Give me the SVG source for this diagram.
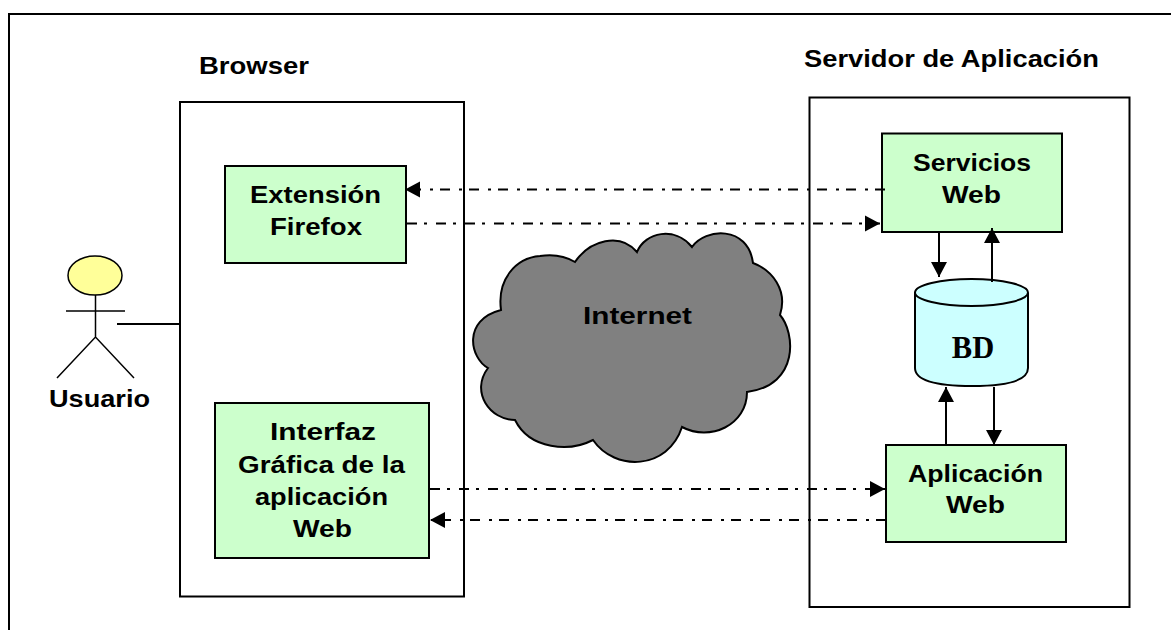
<svg xmlns="http://www.w3.org/2000/svg" width="1171" height="630" viewBox="0 0 1171 630">
<defs>
<marker id="arrow" markerUnits="userSpaceOnUse" markerWidth="16" markerHeight="17" refX="15" refY="8.500" orient="auto"><path d="M0,0.500 L15,8.500 L0,16.500Z" fill="#000"/></marker>
</defs>
<style>
.box{fill:#ccffcc;stroke:#000;stroke-width:2}
.plain{fill:#fff;stroke:#000;stroke-width:2}
.t{font-family:"Liberation Sans",Arial,sans-serif;font-weight:bold;font-size:24px;fill:#000;text-anchor:middle}
.dash{fill:none;stroke:#000;stroke-width:2;stroke-dasharray:10 7 3 9;marker-end:url(#arrow)}
.solid{fill:none;stroke:#000;stroke-width:2;marker-end:url(#arrow)}
.thin{fill:none;stroke:#000;stroke-width:1.500}
</style>
<rect id="frame" x="9" y="14" width="1170" height="625" fill="#fff" stroke="#000" stroke-width="2"/>
<g id="browser"><rect class="plain" x="180" y="102" width="284" height="494.500"/><text class="t" x="254" y="74" textLength="110" lengthAdjust="spacingAndGlyphs">Browser</text></g>
<g id="servidor"><rect class="plain" x="809.500" y="97.500" width="320" height="509.500"/><text class="t" x="951.500" y="67" textLength="295" lengthAdjust="spacingAndGlyphs">Servidor de Aplicación</text></g>
<g id="internet">
<path d="M575,262 C590,240 620,232 637,252 C645,232 675,226 692,247 C705,228 748,225 753,263 C772,270 788,290 780,315 C795,332 800,385 747,392 C747,425 710,442 682,427 C668,470 615,472 593,440 C570,452 530,450 515,420 C490,420 470,392 488,368 C470,358 462,320 501,310 C497,280 515,258 540,256 C553,254 565,256 575,262Z" fill="#808080" stroke="#000" stroke-width="2"/>
<text class="t" x="637.500" y="324" textLength="109" lengthAdjust="spacingAndGlyphs">Internet</text>
</g>
<g id="usuario">
<ellipse cx="95" cy="275.500" rx="27" ry="19.500" fill="#ffff99" stroke="#000" stroke-width="1.500"/>
<path class="thin" d="M95.500,295 V337 M66,311 H125 M57,378 L95.500,337 L134,378"/>
<text class="t" x="99.500" y="407" textLength="101" lengthAdjust="spacingAndGlyphs">Usuario</text>
</g>
<g id="extension"><rect class="box" x="225" y="166" width="181" height="97"/><text class="t" x="315.500" y="203" textLength="131" lengthAdjust="spacingAndGlyphs">Extensión</text><text class="t" x="316" y="235" textLength="92" lengthAdjust="spacingAndGlyphs">Firefox</text></g>
<g id="interfaz"><rect class="box" x="215" y="403" width="214" height="155"/><text class="t" x="323" y="440" textLength="106" lengthAdjust="spacingAndGlyphs">Interfaz</text><text class="t" x="321.500" y="473" textLength="167" lengthAdjust="spacingAndGlyphs">Gráfica de la</text><text class="t" x="321.500" y="505" textLength="133" lengthAdjust="spacingAndGlyphs">aplicación</text><text class="t" x="322.500" y="537" textLength="59" lengthAdjust="spacingAndGlyphs">Web</text></g>
<g id="servicios"><rect class="box" x="882" y="133.500" width="180" height="98.500"/><text class="t" x="972" y="171" textLength="118" lengthAdjust="spacingAndGlyphs">Servicios</text><text class="t" x="971.500" y="203" textLength="59" lengthAdjust="spacingAndGlyphs">Web</text></g>
<g id="aplicacion"><rect class="box" x="886" y="445" width="180" height="97"/><text class="t" x="975.500" y="482" textLength="135" lengthAdjust="spacingAndGlyphs">Aplicación</text><text class="t" x="975.500" y="513" textLength="59" lengthAdjust="spacingAndGlyphs">Web</text></g>
<g id="bd">
<path d="M915,293 V368 Q915,386 972,386 Q1028,386 1028,368 V293" fill="#ccffff" stroke="#000" stroke-width="2"/>
<ellipse cx="971.500" cy="292.500" rx="56.500" ry="13.500" fill="#ccffff" stroke="#000" stroke-width="2"/>
<text x="973" y="358" text-anchor="middle" font-family="Liberation Serif,Times New Roman,serif" font-weight="bold" font-size="30.500" fill="#000">BD</text>
</g>
<g id="connectors">
<path d="M117,324 H180" fill="none" stroke="#000" stroke-width="2"/>
<path class="dash" d="M885,189.500 H405"/>
<path class="dash" d="M407,223.500 H880"/>
<path class="dash" d="M430,489 H885"/>
<path class="dash" d="M886,520 H430"/>
<path class="solid" d="M939,232 V277"/>
<path class="solid" d="M992,282 V228"/>
<path class="solid" d="M946,446 V387"/>
<path class="solid" d="M994,387 V445"/>
</g>
</svg>
